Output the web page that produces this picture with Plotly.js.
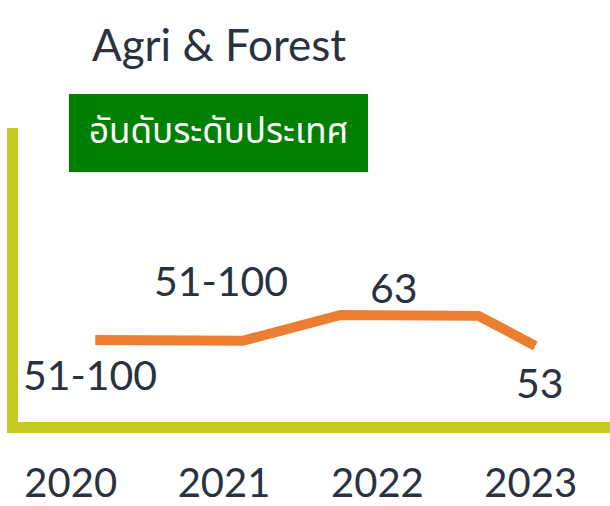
<!DOCTYPE html>
<html>
<head>
<meta charset="utf-8">
<script src="https://cdn.plot.ly/plotly-3.0.1.min.js"></script>
<style>html,body{margin:0;padding:0;background:#fff;}#chart{width:610px;height:506px;}</style>
</head>
<body>
<div id="chart"></div>
<script>
// ---- data ----
var years = [2020, 2021, 2022, 2023];
var yearLabels = ["2020", "2021", "2022", "2023"];
// vertices of the orange line (x in year units, y in arbitrary chart units 0-100)
var lineX = [2020.16, 2021.12, 2021.76, 2022.66, 2023.03];
var lineY = [27.9, 27.6, 36.4, 36.1, 25.9];
// rank labels and the vertex each belongs to
var rankLabels = ["51-100", "51-100", "63", "53"];
var rankVertex = [0, 1, 2, 4];
var chartTitle = "Agri & Forest";
var badgeText = "อันดับระดับประเทศ";

// ---- styles ----
var textColor = "#2a323f";
var lineColor = "#ed7d31";
var axisColor = "#c4cb22";
var badgeColor = "#008000";
var font = "Lato, 'Open Sans', sans-serif";
var labelShift = [[-5, -35], [-21, 60], [53, 27], [5, -37]];

var annotations = rankLabels.map(function (t, i) {
  var v = rankVertex[i];
  return {
    x: lineX[v], y: lineY[v], xref: "x", yref: "y",
    text: t, showarrow: false,
    xshift: labelShift[i][0], yshift: labelShift[i][1],
    font: {family: font, size: 41, color: textColor}
  };
});
annotations.push({
  xref: "paper", yref: "paper", x: 0.3387, y: 0.985,
  xanchor: "center", yanchor: "middle",
  text: badgeText, showarrow: false,
  font: {family: "'Noto Sans Thai', 'Noto Sans', sans-serif", size: 35, color: "#ffffff"}
});

var trace = {
  x: lineX, y: lineY, type: "scatter", mode: "lines",
  line: {color: lineColor, width: 10, shape: "linear"},
  hoverinfo: "skip", showlegend: false
};

var layout = {
  width: 610, height: 506,
  margin: {l: 18, r: 0, t: 128, b: 84, pad: 0},
  paper_bgcolor: "#ffffff", plot_bgcolor: "#ffffff",
  showlegend: false,
  title: {
    text: chartTitle, x: 0.359, xanchor: "center", xref: "container",
    y: 1 - 46 / 506, yanchor: "middle", yref: "container",
    font: {family: font, size: 44, color: textColor}
  },
  xaxis: {
    range: [2019.656, 2023.517], tickvals: years, ticktext: yearLabels,
    showgrid: false, zeroline: false, showline: true,
    linecolor: axisColor, linewidth: 11, ticks: "", ticklabelstandoff: 16,
    tickfont: {family: font, size: 40, color: textColor}, fixedrange: true
  },
  yaxis: {
    range: [0, 100], showgrid: false, zeroline: false, showline: true,
    linecolor: axisColor, linewidth: 11, showticklabels: false, ticks: "",
    fixedrange: true
  },
  shapes: [{
    type: "rect", xref: "paper", yref: "paper",
    x0: 0.0861, x1: 0.5912, y0: 0.8503, y1: 1.1156,
    fillcolor: badgeColor, line: {width: 0}, layer: "above"
  }],
  annotations: annotations
};

Plotly.newPlot("chart", [trace], layout, {staticPlot: true, displayModeBar: false});
</script>
</body>
</html>
